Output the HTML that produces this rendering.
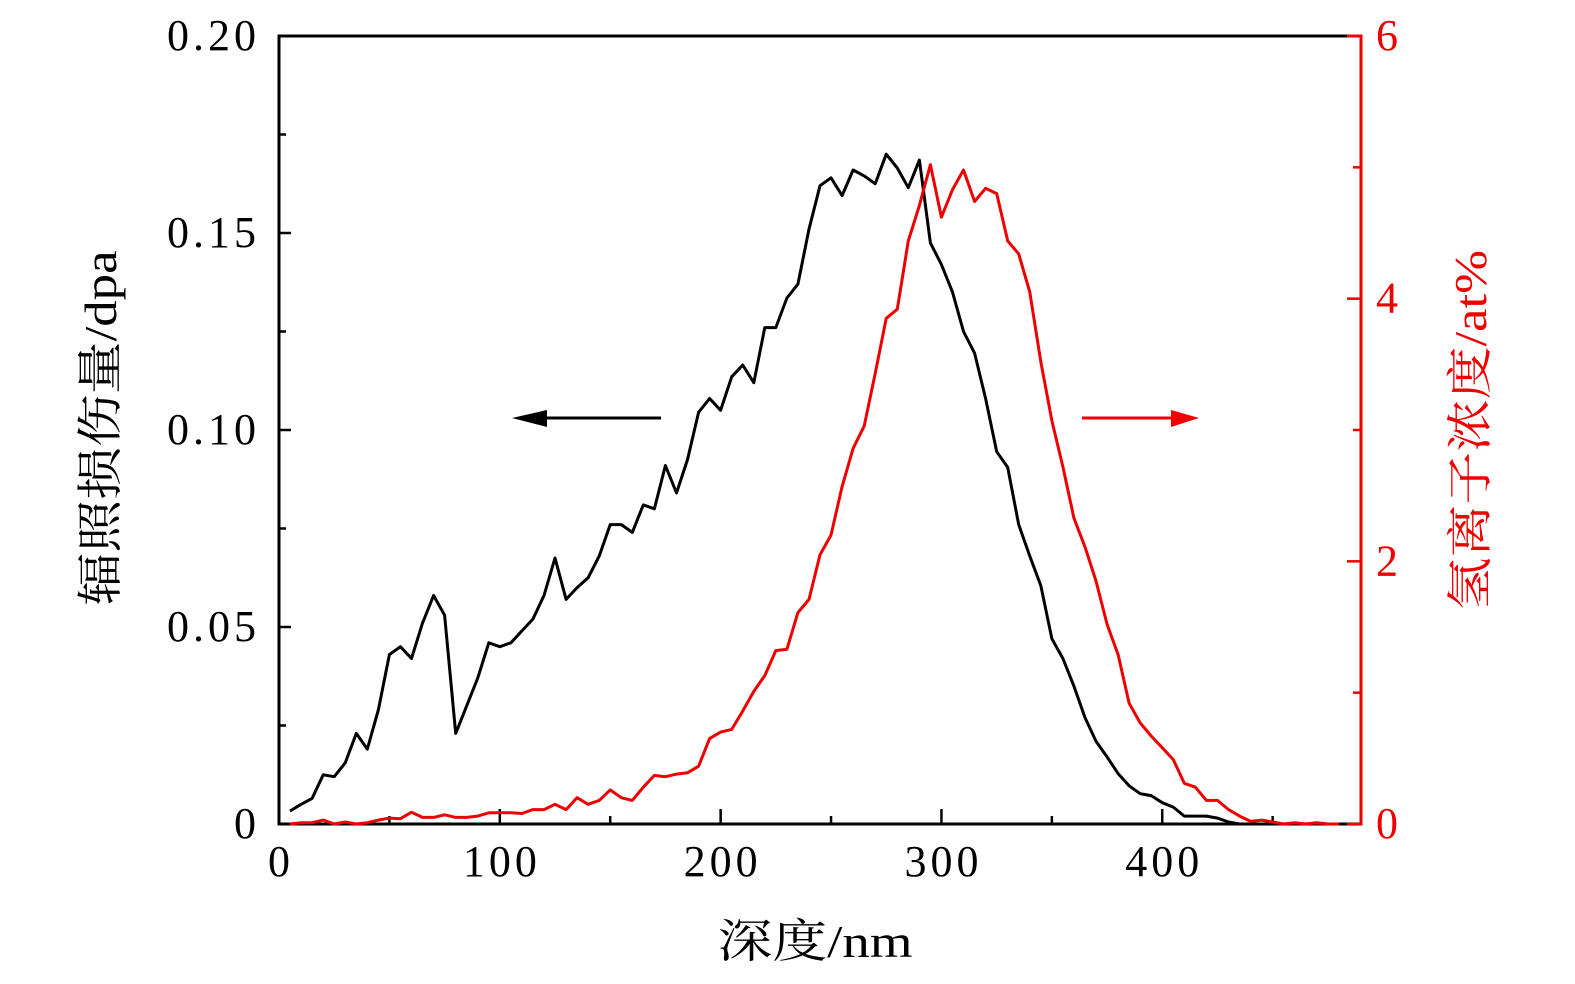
<!DOCTYPE html>
<html><head><meta charset="utf-8">
<style>
html,body{margin:0;padding:0;background:#fff;}
svg{display:block;}
text{font-family:"Liberation Serif","Noto Serif CJK SC",serif;}
</style></head>
<body>
<svg id="chart" width="1575" height="984" viewBox="0 0 1575 984" xmlns="http://www.w3.org/2000/svg"></svg>
<script>
const depths = [];
for (let d = 5; d <= 480; d += 5) depths.push(d);
const dpaValues = [0.0033,0.005,0.0065,0.0125,0.012,0.0155,0.023,0.019,0.029,0.043,0.045,0.042,0.051,0.058,0.053,0.023,0.030,0.037,0.046,0.045,0.046,0.049,0.052,0.058,0.0675,0.057,0.060,0.0625,0.068,0.076,0.076,0.074,0.081,0.080,0.091,0.084,0.0925,0.1045,0.108,0.105,0.1135,0.1165,0.112,0.126,0.126,0.1335,0.137,0.151,0.162,0.164,0.1595,0.166,0.1645,0.1625,0.170,0.1665,0.1615,0.1685,0.1475,0.142,0.135,0.125,0.1195,0.108,0.0945,0.0905,0.076,0.068,0.0605,0.047,0.042,0.035,0.027,0.021,0.017,0.0128,0.0097,0.0077,0.0072,0.0054,0.0043,0.002,0.002,0.002,0.0015,0.0005,0,0,0,0,0,0,0,0,0,0];
const hValues = [0,0.01,0.01,0.03,0,0.015,0,0.01,0.03,0.045,0.04,0.09,0.05,0.05,0.07,0.05,0.05,0.06,0.085,0.085,0.085,0.08,0.11,0.11,0.15,0.11,0.2,0.15,0.18,0.26,0.2,0.18,0.28,0.37,0.36,0.38,0.39,0.44,0.65,0.70,0.72,0.86,1.01,1.13,1.32,1.33,1.61,1.71,2.05,2.2,2.57,2.86,3.03,3.43,3.85,3.92,4.44,4.71,5.02,4.62,4.83,4.98,4.74,4.84,4.80,4.44,4.34,4.05,3.52,3.07,2.72,2.33,2.11,1.85,1.52,1.29,0.92,0.77,0.67,0.58,0.49,0.31,0.28,0.18,0.18,0.11,0.06,0.02,0.03,0.015,0,0.01,0,0.01,0,0];
const xTicks = [0,100,200,300,400];
const xMinorTicks = [50,150,250,350,450];
const yLeftTicks = [0,0.05,0.10,0.15,0.20];
const yLeftTickLabels = ["0","0.05","0.10","0.15","0.20"];
const yLeftMinor = [0.025,0.075,0.125,0.175];
const yRightTicks = [0,2,4,6];
const yRightMinor = [1,3,5];

const L=279, R=1361, T=36, B=824;
const XMAX=490;
const sx = v => L + v/XMAX*(R-L);
const syL = v => B - v/0.2*(B-T);
const syR = v => B - v/6*(B-T);
const svg = document.getElementById('chart');
const NS='http://www.w3.org/2000/svg';
function mk(tag, attrs){const e=document.createElementNS(NS,tag);for(const k in attrs)e.setAttribute(k,attrs[k]);svg.appendChild(e);return e;}
const tickFont = {'font-size':44,'letter-spacing':4};

let e;
e=mk('line',{x1:L,y1:T,x2:1347,y2:T,stroke:'#000','stroke-width':3});


e=mk('line',{x1:1347,y1:T,x2:R,y2:T,stroke:'#e00','stroke-width':3});


e=mk('line',{x1:L,y1:T-1.5,x2:L,y2:B+1.5,stroke:'#000','stroke-width':3});


e=mk('line',{x1:R,y1:T-1.5,x2:R,y2:B+1.5,stroke:'#e00','stroke-width':3});


e=mk('line',{x1:L,y1:B,x2:R,y2:B,stroke:'#000','stroke-width':3});



xTicks.forEach((v,i)=>{
  const x=sx(v);
  const t=mk('line',{x1:x,y1:B,x2:x,y2:B-15,stroke:'#000','stroke-width':2.5});
  
  
  const l=mk('text',Object.assign({x:x+2,y:876,'text-anchor':'middle',fill:'#000'},tickFont));
  l.textContent=String(v);
  
  
});
xMinorTicks.forEach(v=>{
  const x=sx(v);
  const t=mk('line',{x1:x,y1:B,x2:x,y2:B-8,stroke:'#000','stroke-width':2.5});
  
  
});
yLeftTicks.forEach((v,i)=>{
  const y=syL(v);
  const t=mk('line',{x1:L,y1:y,x2:L+12,y2:y,stroke:'#000','stroke-width':2.5});
  
  
  const l=mk('text',Object.assign({x:260,y:y+14,'text-anchor':'end',fill:'#000'},tickFont));
  l.textContent=yLeftTickLabels[i];
  
  
});
yLeftMinor.forEach(v=>{
  const y=syL(v);
  const t=mk('line',{x1:L,y1:y,x2:L+7,y2:y,stroke:'#000','stroke-width':2.5});
  
  
});
yRightTicks.forEach(v=>{
  const y=syR(v);
  const t=mk('line',{x1:R,y1:y,x2:R-14,y2:y,stroke:'#e00','stroke-width':2.5});
  
  
  const l=mk('text',Object.assign({x:1376,y:y+14,'text-anchor':'start',fill:'#e00'},tickFont));
  l.textContent=String(v);
  
  
});
yRightMinor.forEach(v=>{
  const y=syR(v);
  const t=mk('line',{x1:R,y1:y,x2:R-8,y2:y,stroke:'#e00','stroke-width':2.5});
  
  
});

const pBlack=depths.map((d,i)=>sx(d).toFixed(1)+','+syL(dpaValues[i]).toFixed(1)).join(' ');
e=mk('polyline',{points:pBlack,fill:'none',stroke:'#000','stroke-width':3,'stroke-linejoin':'round'});


const pRed=depths.map((d,i)=>sx(d).toFixed(1)+','+syR(hValues[i]).toFixed(1)).join(' ');
e=mk('polyline',{points:pRed,fill:'none',stroke:'#e00','stroke-width':3,'stroke-linejoin':'round'});



e=mk('line',{x1:661,y1:418,x2:540,y2:418,stroke:'#000','stroke-width':3});


e=mk('polygon',{points:'512,418 547,410 547,427',fill:'#000'});


e=mk('line',{x1:1082,y1:418,x2:1175,y2:418,stroke:'#e00','stroke-width':3});


e=mk('polygon',{points:'1199,418 1171,410 1171,427',fill:'#e00'});



e=mk('text',{x:815,y:957,'font-size':46,'text-anchor':'middle',fill:'#000',textLength:195,lengthAdjust:'spacingAndGlyphs'});
e.textContent='深度/nm';


e=mk('text',{x:0,y:0,'font-size':46,'text-anchor':'middle',fill:'#000',textLength:355,lengthAdjust:'spacingAndGlyphs',transform:'translate(116,428) rotate(-90)'});
e.textContent='辐照损伤量/dpa';


e=mk('text',{x:0,y:0,'font-size':46,'text-anchor':'middle',fill:'#e00',textLength:360,lengthAdjust:'spacingAndGlyphs',transform:'translate(1486,430) rotate(-90)'});
e.textContent='氢离子浓度/at%';


</script>
</body></html>
